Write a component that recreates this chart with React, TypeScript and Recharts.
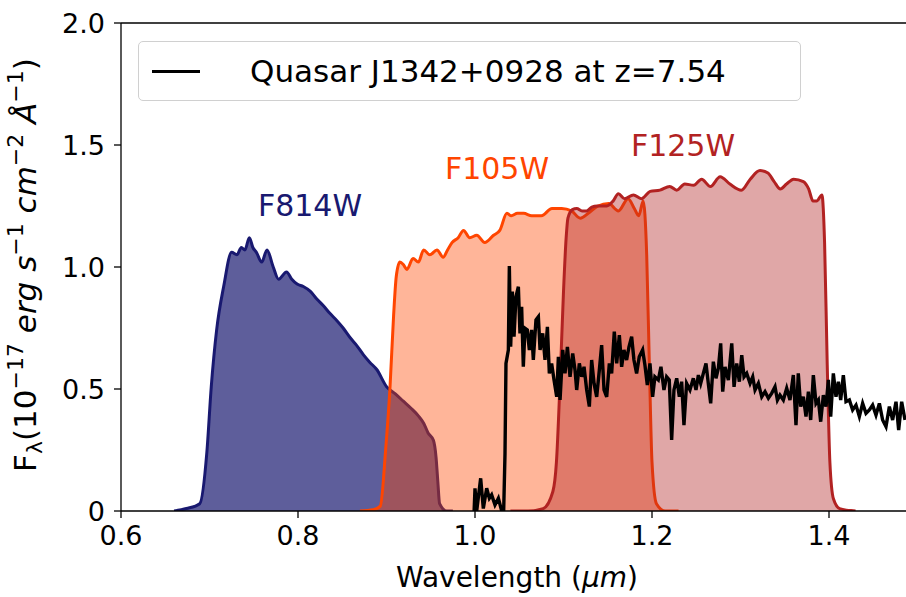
import { Area, ComposedChart, Line, ReferenceDot, ReferenceLine, XAxis, YAxis } from 'recharts'

// filter throughput curves (scaled to flux units), wavelength in micron
const f814wWave = [0.66, 0.674, 0.689, 0.697, 0.702, 0.708, 0.716, 0.725, 0.731, 0.736, 0.74, 0.745, 0.749, 0.753, 0.759, 0.765, 0.772, 0.778, 0.787, 0.793, 0.799, 0.806, 0.814, 0.821, 0.829, 0.836, 0.844, 0.851, 0.859, 0.866, 0.874, 0.881, 0.889, 0.9, 0.91, 0.919, 0.928, 0.936, 0.942, 0.947, 0.953, 0.956, 0.958, 0.96, 0.968, 0.975]
const f814wFlux = [0, 0.01, 0.03, 0.24, 0.51, 0.74, 0.92, 1.06, 1.05, 1.08, 1.07, 1.12, 1.08, 1.06, 1.02, 1.07, 1.0, 0.95, 0.98, 0.95, 0.93, 0.92, 0.9, 0.87, 0.84, 0.81, 0.78, 0.75, 0.71, 0.68, 0.64, 0.61, 0.58, 0.51, 0.48, 0.45, 0.42, 0.39, 0.36, 0.32, 0.29, 0.22, 0.12, 0.03, 0, 0]

const f105wWave = [0.87, 0.885, 0.893, 0.899, 0.904, 0.908, 0.911, 0.915, 0.919, 0.923, 0.93, 0.936, 0.942, 0.949, 0.957, 0.964, 0.969, 0.974, 0.981, 0.987, 0.994, 1.002, 1.011, 1.021, 1.028, 1.036, 1.041, 1.048, 1.055, 1.064, 1.075, 1.087, 1.098, 1.109, 1.119, 1.128, 1.139, 1.151, 1.162, 1.173, 1.18, 1.185, 1.19, 1.194, 1.197, 1.2, 1.205, 1.215, 1.23]
const f105wFlux = [0, 0.005, 0.02, 0.25, 0.51, 0.8, 0.96, 1.02, 1.01, 0.99, 1.035, 1.02, 1.07, 1.05, 1.07, 1.04, 1.07, 1.1, 1.12, 1.15, 1.12, 1.13, 1.1, 1.13, 1.15, 1.22, 1.21, 1.22, 1.22, 1.21, 1.21, 1.24, 1.24, 1.23, 1.2, 1.22, 1.25, 1.26, 1.23, 1.28, 1.24, 1.21, 1.27, 1.05, 0.6, 0.2, 0.03, 0, 0]

const f125wWave = [1.04, 1.06, 1.077, 1.088, 1.092, 1.096, 1.1, 1.103, 1.105, 1.11, 1.115, 1.121, 1.126, 1.132, 1.138, 1.149, 1.156, 1.162, 1.169, 1.179, 1.188, 1.198, 1.209, 1.22, 1.228, 1.237, 1.247, 1.256, 1.266, 1.277, 1.288, 1.301, 1.311, 1.322, 1.331, 1.338, 1.345, 1.352, 1.36, 1.371, 1.377, 1.382, 1.386, 1.392, 1.395, 1.398, 1.401, 1.405, 1.412, 1.43]
const f125wFlux = [0, 0, 0.01, 0.08, 0.2, 0.52, 0.9, 1.12, 1.2, 1.235, 1.24, 1.23, 1.23, 1.245, 1.25, 1.25, 1.27, 1.3, 1.28, 1.295, 1.28, 1.31, 1.315, 1.33, 1.315, 1.34, 1.335, 1.36, 1.33, 1.37, 1.34, 1.315, 1.36, 1.395, 1.385, 1.35, 1.32, 1.34, 1.36, 1.35, 1.32, 1.27, 1.27, 1.295, 1.1, 0.6, 0.2, 0.05, 0.01, 0]

// quasar J1342+0928 spectrum
const qsoWave = [0.999, 1.0, 1.0019, 1.0064, 1.0094, 1.0132, 1.0162, 1.0188, 1.0226, 1.0264, 1.0302, 1.0324, 1.0339, 1.035, 1.0377, 1.0388, 1.0403, 1.0422, 1.0441, 1.0463, 1.049, 1.0508, 1.0527, 1.0546, 1.0565, 1.0591, 1.0614, 1.064, 1.0659, 1.0689, 1.0716, 1.0735, 1.0765, 1.0791, 1.0818, 1.084, 1.0866, 1.0893, 1.0923, 1.0942, 1.0961, 1.0991, 1.1017, 1.1044, 1.1074, 1.1104, 1.113, 1.1149, 1.1179, 1.1206, 1.1232, 1.1262, 1.1292, 1.1318, 1.1345, 1.1375, 1.1405, 1.1431, 1.1458, 1.1488, 1.1518, 1.1544, 1.1574, 1.1601, 1.1631, 1.1657, 1.1683, 1.1713, 1.174, 1.177, 1.1796, 1.1826, 1.1856, 1.1894, 1.192, 1.1947, 1.1977, 1.2007, 1.2033, 1.2071, 1.2101, 1.2135, 1.2165, 1.2195, 1.2222, 1.2248, 1.2279, 1.2309, 1.2335, 1.2361, 1.2391, 1.2429, 1.2467, 1.2497, 1.2524, 1.255, 1.258, 1.261, 1.2636, 1.2663, 1.2693, 1.2723, 1.275, 1.2776, 1.2799, 1.2825, 1.2863, 1.2901, 1.2927, 1.2957, 1.2987, 1.3014, 1.304, 1.307, 1.3108, 1.3138, 1.3164, 1.3202, 1.324, 1.3277, 1.3315, 1.3352, 1.339, 1.3417, 1.3446, 1.3484, 1.3522, 1.3559, 1.3597, 1.3627, 1.3653, 1.368, 1.371, 1.374, 1.3767, 1.3793, 1.3823, 1.3853, 1.388, 1.3906, 1.3936, 1.3966, 1.3993, 1.4019, 1.4049, 1.4079, 1.4106, 1.4132, 1.4162, 1.4192, 1.423, 1.4267, 1.4305, 1.4343, 1.438, 1.4418, 1.4456, 1.4493, 1.4531, 1.4569, 1.4606, 1.4644, 1.4682, 1.4719, 1.4757, 1.4787, 1.4821, 1.4859]
const qsoFlux = [0, 0.093, 0, 0.134, 0.01, 0.093, 0.052, 0.066, 0.025, 0.052, 0, 0, 0.236, 0.605, 0.66, 1.004, 0.673, 0.899, 0.714, 0.878, 0.919, 0.728, 0.837, 0.591, 0.749, 0.742, 0.66, 0.742, 0.619, 0.783, 0.796, 0.66, 0.728, 0.619, 0.755, 0.564, 0.605, 0.537, 0.468, 0.632, 0.455, 0.66, 0.564, 0.673, 0.55, 0.646, 0.578, 0.496, 0.605, 0.55, 0.591, 0.496, 0.428, 0.619, 0.523, 0.468, 0.578, 0.68, 0.496, 0.468, 0.605, 0.564, 0.735, 0.605, 0.721, 0.591, 0.66, 0.619, 0.673, 0.714, 0.619, 0.564, 0.632, 0.66, 0.598, 0.516, 0.605, 0.468, 0.55, 0.537, 0.591, 0.496, 0.55, 0.537, 0.291, 0.496, 0.544, 0.468, 0.53, 0.352, 0.523, 0.496, 0.544, 0.496, 0.557, 0.523, 0.564, 0.605, 0.523, 0.441, 0.612, 0.544, 0.585, 0.687, 0.489, 0.591, 0.537, 0.687, 0.509, 0.605, 0.53, 0.639, 0.55, 0.564, 0.523, 0.55, 0.496, 0.523, 0.468, 0.489, 0.462, 0.482, 0.509, 0.455, 0.475, 0.455, 0.503, 0.455, 0.557, 0.352, 0.564, 0.428, 0.468, 0.387, 0.489, 0.373, 0.557, 0.441, 0.455, 0.366, 0.475, 0.428, 0.537, 0.387, 0.564, 0.468, 0.53, 0.455, 0.557, 0.448, 0.455, 0.414, 0.434, 0.387, 0.441, 0.4, 0.414, 0.434, 0.393, 0.441, 0.373, 0.346, 0.428, 0.373, 0.448, 0.332, 0.448, 0.373]

const xTicks = [0.6, 0.8, 1.0, 1.2, 1.4]
const yTicks = [0, 0.5, 1.0, 1.5, 2.0]

const FONT = 'DejaVu Sans, sans-serif'

const toRows = (w: number[], f: number[]) => w.map((x, i) => ({ w: x, f: f[i] }))

const f814w = toRows(f814wWave, f814wFlux)
const f105w = toRows(f105wWave, f105wFlux)
const f125w = toRows(f125wWave, f125wFlux)
const qso = toRows(qsoWave, qsoFlux)

function LegendBox() {
  return (
    <div
      style={{
        position: 'absolute',
        left: 138,
        top: 41,
        width: 663,
        height: 60,
        boxSizing: 'border-box',
        border: '1.5px solid #d0d0d0',
        borderRadius: 5,
        background: 'rgba(255,255,255,0.8)',
        display: 'flex',
        alignItems: 'center',
        fontFamily: FONT,
        fontSize: 31,
        color: '#000',
      }}
    >
      <div style={{ width: 48, height: 0, borderTop: '3px solid #000', marginLeft: 13, marginRight: 50 }} />
      <span>Quasar J1342+0928 at z=7.54</span>
    </div>
  )
}

function YLabel() {
  const cx = 36
  const cy = 265
  const sup = 22
  return (
    <text
      x={cx}
      y={cy}
      transform={`rotate(-90, ${cx}, ${cy})`}
      textAnchor="middle"
      fontFamily={FONT}
      fontSize={31}
      fill="#000"
    >
      F<tspan fontSize={sup} dy={6}>λ</tspan>
      <tspan dy={-6}>(10</tspan>
      <tspan fontSize={sup} dy={-13}>−17</tspan>
      <tspan dy={13} fontStyle="italic"> erg s</tspan>
      <tspan fontSize={sup} dy={-13}>−1</tspan>
      <tspan dy={13} fontStyle="italic"> cm</tspan>
      <tspan fontSize={sup} dy={-13}>−2</tspan>
      <tspan dy={13} fontStyle="italic"> Å</tspan>
      <tspan fontSize={sup} dy={-13}>−1</tspan>
      <tspan dy={13}>)</tspan>
    </text>
  )
}

function XLabel() {
  return (
    <text x={517} y={587} textAnchor="middle" fontFamily={FONT} fontSize={28} fill="#000">
      Wavelength (<tspan fontStyle="italic">μm</tspan>)
    </text>
  )
}

const tickStyle = { fontFamily: FONT, fontSize: 27, fill: '#000' }

export default function App() {
  return (
    <div style={{ position: 'absolute', left: 0, top: 0, width: 906, height: 597, background: '#fff' }}>
      <ComposedChart width={906} height={597} margin={{ top: 23, right: 0, bottom: 26, left: 0 }}>
        <XAxis
          type="number"
          dataKey="w"
          domain={[0.6, 1.487]}
          ticks={xTicks}
          allowDataOverflow
          tickFormatter={(v: number) => v.toFixed(1)}
          tick={tickStyle}
          tickSize={7}
          tickMargin={8}
          height={60}
          stroke="#000"
          strokeWidth={1.3}
          label={<XLabel />}
        />
        <YAxis
          type="number"
          dataKey="f"
          domain={[0, 2]}
          ticks={yTicks}
          allowDataOverflow
          tickFormatter={(v: number) => (v === 0 ? '0' : v.toFixed(1))}
          tick={tickStyle}
          tickSize={7}
          tickMargin={9}
          width={121}
          stroke="#000"
          strokeWidth={1.3}
          label={<YLabel />}
        />
        <ReferenceLine y={2} stroke="#000" strokeWidth={1.3} />
        <Area
          data={f814w}
          dataKey="f"
          type="monotone"
          stroke="#191970"
          strokeWidth={3}
          fill="#191970"
          fillOpacity={0.7}
          isAnimationActive={false}
        />
        <Area
          data={f105w}
          dataKey="f"
          type="monotone"
          stroke="#ff4500"
          strokeWidth={3}
          fill="#ff4500"
          fillOpacity={0.4}
          isAnimationActive={false}
        />
        <Area
          data={f125w}
          dataKey="f"
          type="monotone"
          stroke="#b22222"
          strokeWidth={3}
          fill="#b22222"
          fillOpacity={0.4}
          isAnimationActive={false}
        />
        <Line
          data={qso}
          dataKey="f"
          type="linear"
          stroke="#000"
          strokeWidth={3.4}
          dot={false}
          isAnimationActive={false}
        />
        <ReferenceDot x={0.8136} y={1.254} r={0} fill="none" stroke="none"
          label={{ value: 'F814W', fill: '#191970', fontSize: 30, fontFamily: FONT, position: 'center' }} />
        <ReferenceDot x={1.0249} y={1.406} r={0} fill="none" stroke="none"
          label={{ value: 'F105W', fill: '#ff4500', fontSize: 30, fontFamily: FONT, position: 'center' }} />
        <ReferenceDot x={1.235} y={1.5} r={0} fill="none" stroke="none"
          label={{ value: 'F125W', fill: '#b22222', fontSize: 30, fontFamily: FONT, position: 'center' }} />
      </ComposedChart>
      <LegendBox />
    </div>
  )
}
